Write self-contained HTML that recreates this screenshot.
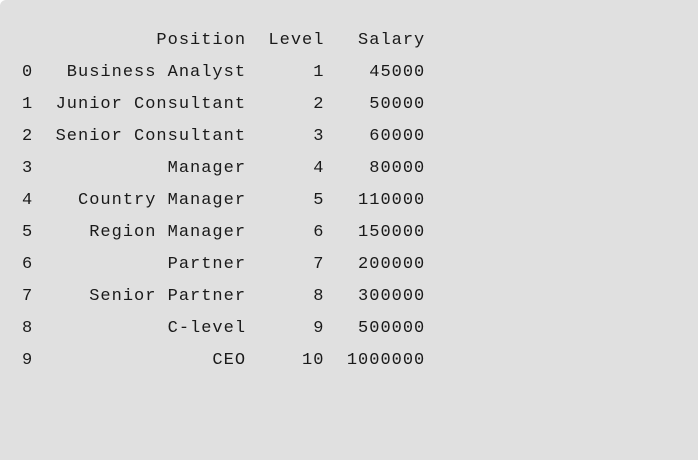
<!DOCTYPE html>
<html><head><meta charset="utf-8"><style>
html,body{margin:0;padding:0;background:#fff;}
#frame{position:relative;width:698px;height:460px;background:#e0e0e0;border-top-left-radius:6px;overflow:hidden;}
.line{position:absolute;left:22px;margin:0;font-family:"Liberation Mono",monospace;font-size:17px;letter-spacing:1px;color:#1a1a1a;white-space:pre;line-height:20px;}
</style></head><body>
<div id="frame">
<pre class="line" style="top:31px">            Position  Level   Salary</pre>
<pre class="line" style="top:63px">0   Business Analyst      1    45000</pre>
<pre class="line" style="top:95px">1  Junior Consultant      2    50000</pre>
<pre class="line" style="top:127px">2  Senior Consultant      3    60000</pre>
<pre class="line" style="top:159px">3            Manager      4    80000</pre>
<pre class="line" style="top:191px">4    Country Manager      5   110000</pre>
<pre class="line" style="top:223px">5     Region Manager      6   150000</pre>
<pre class="line" style="top:255px">6            Partner      7   200000</pre>
<pre class="line" style="top:287px">7     Senior Partner      8   300000</pre>
<pre class="line" style="top:319px">8            C-level      9   500000</pre>
<pre class="line" style="top:351px">9                CEO     10  1000000</pre>
</div>
</body></html>
